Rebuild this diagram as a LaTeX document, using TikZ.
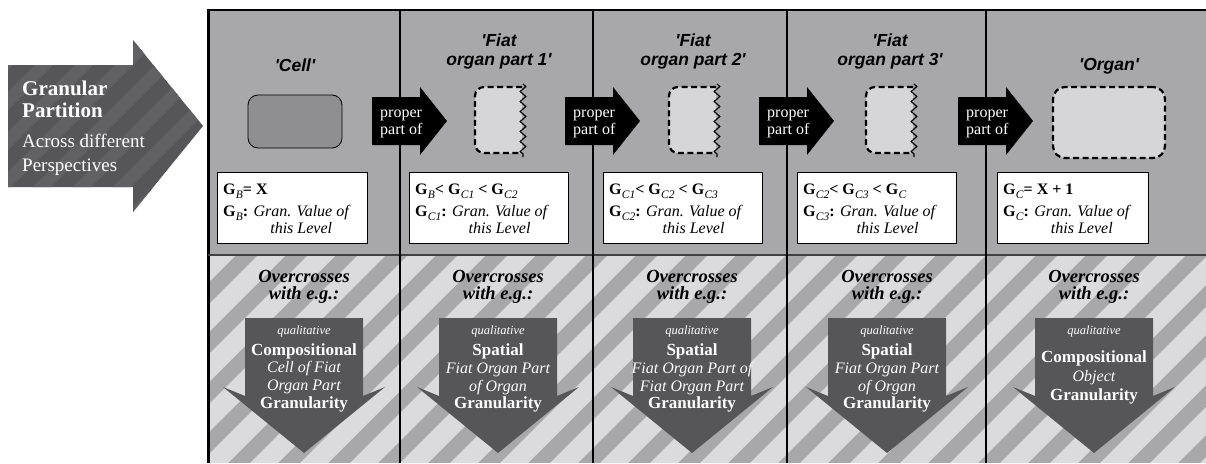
\documentclass[tikz,border=0pt]{standalone}
\usepackage{fontspec}
\setmainfont{Liberation Serif}
\newfontfamily\headfont{Liberation Sans}
\usetikzlibrary{positioning,decorations.pathmorphing}

\definecolor{panelgray}{HTML}{A8A8AA}
\definecolor{stripegray}{HTML}{DBDBDD}
\definecolor{cellgray}{HTML}{8F8F91}
\definecolor{fiatgray}{HTML}{D6D6D8}
\definecolor{arrowgray}{HTML}{565658}
\definecolor{bandgray}{HTML}{616163}

\newcommand{\gsub}[1]{\textbf{G}\kern0.3pt\raisebox{-0.65ex}{\fontsize{11.5}{12}\selectfont\itshape #1}}
\newcommand{\granval}[1]{\gsub{#1}\textbf{:} \begin{tabular}[t]{@{}c@{}}\itshape Gran. Value of\\\itshape this Level\end{tabular}}

\begin{document}
\begin{tikzpicture}[x = 1pt, y = -1pt,
  title/.style = {font = \headfont\bfseries\itshape\fontsize{17.5}{20}\selectfont, anchor = base, inner sep = 0pt},
  lefttext/.style = {text = white, anchor = base west, inner sep = 0pt},
  parttext/.style = {font = \fontsize{16}{18}\selectfont, text = white, anchor = base west, inner sep = 0pt},
  infobox/.style = {draw, fill = white, line width = 1pt, anchor = north west, minimum height = 71pt, inner sep = 0pt},
  boxtext/.style = {font = \fontsize{16}{17}\selectfont, anchor = base west, inner sep = 0pt},
  fiatline/.style = {draw, line width = 2.2pt, dash pattern = on 6pt off 3.5pt},
  over/.style = {font = \bfseries\itshape\fontsize{18.5}{17}\selectfont, anchor = base, inner sep = 0pt},
  qual/.style = {font = \itshape\fontsize{12.5}{13}\selectfont, text = white, anchor = base, inner sep = 0pt},
  kind/.style = {font = \bfseries\fontsize{17}{18}\selectfont, text = white, anchor = base, inner sep = 0pt},
  what/.style = {font = \itshape\fontsize{16}{17}\selectfont, text = white, anchor = base, inner sep = 0pt}]
\useasboundingbox (0,0) rectangle (1206,463);

% left arrow
\begin{scope}
\clip (8,65) -- (133,65) -- (133,40) -- (203,126) -- (133,212) -- (133,187) -- (8,187) -- cycle;
\fill[arrowgray] (0,30) rectangle (210,220);
\foreach \s in {-200,-160,...,200}
  \fill[bandgray] (\s,220) -- ++(18,0) -- ++(190,-190) -- ++(-18,0) -- cycle;
\end{scope}
\node[lefttext, font = \bfseries\fontsize{21}{22}\selectfont] (granular) at (22,95) {Granular};
\node[lefttext, font = \bfseries\fontsize{21}{22}\selectfont] (partition) at (22,117) {Partition};
\node[lefttext, font = \fontsize{19}{20}\selectfont] (across) at (22,147) {Across different};
\node[lefttext, font = \fontsize{19}{20}\selectfont] (perspectives) at (22,171.5) {Perspectives};

% panel
\fill[panelgray] (208,10) rectangle (1206,255);
\begin{scope}
\clip (208,255) rectangle (1206,463);
\fill[panelgray] (208,255) rectangle (1206,463);
\foreach \s in {0,50,...,1250}
  \fill[stripegray] (\s,463) -- ++(28,0) -- ++(208,-208) -- ++(-28,0) -- cycle;
\end{scope}
\draw[line width = 2pt] (208,10) -- (1206,10);
\draw[line width = 3pt] (208,8.5) -- (208,463);
\draw[line width = 1.2pt, black!75] (208,255) -- (1206,255);
\foreach \x in {400,593,787,986}
  \draw[line width = 1.6pt] (\x,10) -- (\x,463);

% titles and shapes
\node[title] (cell) at (295,71) {'Cell'};
\node[draw, fill = cellgray, rounded corners = 10pt, minimum width = 94pt, minimum height = 53pt, line width = 0.8pt] (cellbox) at (295,121.5) {};
\foreach \c/\n in {499/1,693/2,890/3} {
  \node[title] (fiat\n) at (\c,46.5) {'Fiat};
  \node[title] (organpart\n) at (\c,65) {organ part \n'};
  \fill[fiatgray, rounded corners = 9pt] (\c+23,87) -- (\c-24,87) -- (\c-24,153) -- (\c+23,153);
  \draw[fiatline, rounded corners = 9pt] (\c+23,87) -- (\c-24,87) -- (\c-24,153) -- (\c+23,153);
  \draw[line width = 1.2pt, decorate, decoration = {zigzag, segment length = 10pt, amplitude = 2.8pt}] (\c+24,84) -- (\c+24,157);
}
\node[title] (organ) at (1109,70) {'Organ'};
\node[fiatline, fill = fiatgray, rounded corners = 12pt, minimum width = 112pt, minimum height = 71pt] (organbox) at (1109,122.5) {};

% proper part of
\foreach \s/\n in {372/1,565/2,759/3,958/4} {
  \fill (\s,97) -- (\s+48,97) -- (\s+48,87) -- (\s+75,121) -- (\s+48,155) -- (\s+48,145) -- (\s,145) -- cycle;
  \node[parttext] (proper\n) at (\s+8,117) {proper};
  \node[parttext] (partof\n) at (\s+8,134.5) {part of};
}

% granularity values
\foreach \x/\w/\n in {217/150/1,409/159/2,603/159/3,797/159/4,997/151/5}
  \node[infobox, minimum width = \w] (info\n) at (\x,172) {};
\node[boxtext] (rel1) at (223,194) {\gsub{B}\textbf{= X}};
\node[boxtext] (val1) at (223,216) {\granval{B}};
\node[boxtext] (rel2) at (415,194) {\gsub{B}\textbf{<} \gsub{C1} \textbf{<} \gsub{C2}};
\node[boxtext] (val2) at (415,216) {\granval{C1}};
\node[boxtext] (rel3) at (609,194) {\gsub{C1}\textbf{<} \gsub{C2} \textbf{<} \gsub{C3}};
\node[boxtext] (val3) at (609,216) {\granval{C2}};
\node[boxtext] (rel4) at (803,194) {\gsub{C2}\textbf{<} \gsub{C3} \textbf{<} \gsub{C}};
\node[boxtext] (val4) at (803,216) {\granval{C3}};
\node[boxtext] (rel5) at (1003,194) {\gsub{C}\textbf{= X + 1}};
\node[boxtext] (val5) at (1003,216) {\granval{C}};

% overcrossing granularities
\foreach \c/\n in {304/1,498/2,692/3,887/4,1094/5} {
  \node[over] (over\n) at (\c,282) {Overcrosses};
  \node[over] (with\n) at (\c,299.5) {with e.g.:};
  \fill[arrowgray] (\c-59,318) -- (\c+59,318) -- (\c+59,396) -- (\c+81,387) -- (\c,453) -- (\c-81,387) -- (\c-59,396) -- cycle;
  \node[qual] (qual\n) at (\c,334) {qualitative};
}
\node[kind] (kind1) at (304,355) {Compositional};
\node[what] (whata1) at (304,372.5) {Cell of Fiat};
\node[what] (whatb1) at (304,390.5) {Organ Part};
\node[kind] (gran1) at (304,408) {Granularity};
\node[kind] (kind2) at (498,355) {Spatial};
\node[what] (whata2) at (498,373) {Fiat Organ Part};
\node[what] (whatb2) at (498,391.5) {of Organ};
\node[kind] (gran2) at (498,408) {Granularity};
\node[kind] (kind3) at (692,355) {Spatial};
\node[what] (whata3) at (692,373) {Fiat Organ Part of};
\node[what] (whatb3) at (692,391.5) {Fiat Organ Part};
\node[kind] (gran3) at (692,408) {Granularity};
\node[kind] (kind4) at (887,355) {Spatial};
\node[what] (whata4) at (887,373) {Fiat Organ Part};
\node[what] (whatb4) at (887,391.5) {of Organ};
\node[kind] (gran4) at (887,408) {Granularity};
\node[kind] (kind5) at (1094,362.5) {Compositional};
\node[what] (whata5) at (1094,381.5) {Object};
\node[kind] (gran5) at (1094,400) {Granularity};
\end{tikzpicture}
\end{document}
